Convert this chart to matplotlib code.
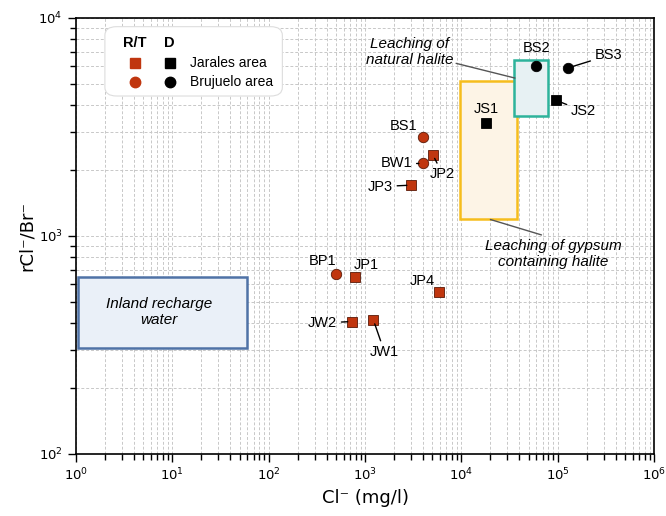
import matplotlib
matplotlib.use("Agg")
import matplotlib.pyplot as plt
from matplotlib.patches import Rectangle, FancyBboxPatch
from matplotlib.ticker import LogLocator, NullFormatter, LogFormatterSciNotation

# samples: name, Cl- (mg/l), rCl/Br, group, area
names = ["BS2", "BS3", "JS2", "JS1", "BS1", "BW1", "JP2", "JP3",
         "BP1", "JP1", "JP4", "JW2", "JW1"]
cl = [6.0e4, 1.28e5, 9.5e4, 1.8e4, 4000, 4000, 5050, 3000,
      500, 790, 5900, 730, 1220]
ratio = [6000, 5900, 4200, 3300, 2840, 2150, 2360, 1710,
         670, 645, 553, 405, 412]
group = ["D", "D", "D", "D", "RT", "RT", "RT", "RT",
         "RT", "RT", "RT", "RT", "RT"]
area = ["B", "B", "J", "J", "B", "B", "J", "J", "B", "J", "J", "J", "J"]

# label offsets in points and whether a leader line is drawn
label_off = [(0, 13), (29, 9), (20, -8), (0, 10), (-14, 8), (-19, 0),
             (7, -14), (-22, -1), (-10, 9), (8, 9), (-12, 8), (-21, -1), (8, -23)]
leader = [False, True, True, False, False, True, True, True,
          False, False, False, True, True]

# reference areas (x range, y range)
inland_x, inland_y = [1.05, 59], [305, 650]
gyps_x, gyps_y = [9.6e3, 3.8e4], [1190, 5150]
halite_x, halite_y = [3.55e4, 7.9e4], [3540, 6400]

xticks = [1, 10, 100, 1e3, 1e4, 1e5, 1e6]
yticks = [100, 1e3, 1e4]

red = "#c0360f"

fig = plt.figure(figsize=(6.66, 5.16), dpi=100)
ax = fig.add_axes([0.1141, 0.1202, 0.868, 0.845])
ax.set_xscale("log")
ax.set_yscale("log")
ax.set_xlim(1, 1e6)
ax.set_ylim(100, 1e4)
ax.set_xticks(xticks)
ax.set_yticks(yticks)
ax.xaxis.set_major_formatter(LogFormatterSciNotation())
ax.yaxis.set_major_formatter(LogFormatterSciNotation())

ax.xaxis.set_minor_locator(LogLocator(base=10, subs=range(2, 10), numticks=20))
ax.yaxis.set_minor_locator(LogLocator(base=10, subs=range(2, 10), numticks=20))
ax.xaxis.set_minor_formatter(NullFormatter())
ax.yaxis.set_minor_formatter(NullFormatter())
ax.grid(True, which="both", ls=(0, (3, 2)), color="#c8c8c8", lw=0.7)
ax.set_axisbelow(True)
ax.tick_params(which="major", length=6, width=1, labelsize=9.5, direction="out")
ax.tick_params(which="minor", length=4, width=1, direction="out")
for s in ax.spines.values():
    s.set_linewidth(1.2)

def box(xr, yr, ec, fc):
    ax.add_patch(Rectangle((xr[0], yr[0]), xr[1] - xr[0], yr[1] - yr[0],
                           ec=ec, fc=fc, lw=1.8, zorder=2))

box(inland_x, inland_y, "#4f72a6", "#eaf0f8")
box(gyps_x, gyps_y, "#f6bd1d", "#fdf4e6")
box(halite_x, halite_y, "#2db39b", "#e7f1f3")

lab_font = dict(family="Liberation Sans", fontsize=10.5)
note_font = dict(family="Liberation Sans", fontsize=11, style="italic")
ax.text(7.3, 448, "Inland recharge\nwater", ha="center", va="center", **note_font)
ax.annotate("Leaching of\nnatural halite", xy=(3.6e4, 5300), xytext=(2.9e3, 7000),
            ha="center", va="center",
            arrowprops=dict(arrowstyle="-", color="#555555", lw=1, shrinkA=0, shrinkB=0),
            **note_font)
ax.annotate("Leaching of gypsum\ncontaining halite", xy=(2.0e4, 1190), xytext=(9.0e4, 830),
            ha="center", va="center",
            arrowprops=dict(arrowstyle="-", color="#555555", lw=1, shrinkA=2, shrinkB=0,
                            relpos=(0.5, 1.0)),
            **note_font)

for n, x, y, g, a, off, ld in zip(names, cl, ratio, group, area, label_off, leader):
    c = "black" if g == "D" else red
    m = "s" if a == "J" else "o"
    ms = 6.5 if m == "s" else 7.5
    ax.plot(x, y, marker=m, ms=ms, color=c, mec="#5a1a08" if g == "RT" else "black",
            mew=0.6, ls="none", zorder=4)
    ap = dict(arrowstyle="-", color="black", lw=1, shrinkA=1, shrinkB=3) if ld else None
    ax.annotate(n, xy=(x, y), xytext=off, textcoords="offset points",
                ha="center", va="center", arrowprops=ap, zorder=5, **lab_font)

# legend drawn by hand
lg = FancyBboxPatch((0.05, 0.821), 0.307, 0.159, boxstyle="round,pad=0,rounding_size=0.02",
                    transform=ax.transAxes, fc="white", ec="#dddddd", lw=0.8, zorder=6)
ax.add_patch(lg)
ax.text(0.102, 0.943, "R/T", transform=ax.transAxes, ha="center", va="center",
        fontweight="bold", family="Liberation Sans", fontsize=10.5, zorder=7)
ax.text(0.162, 0.943, "D", transform=ax.transAxes, ha="center", va="center",
        fontweight="bold", family="Liberation Sans", fontsize=10.5, zorder=7)
for yy, m, ms, txt in [(0.897, "s", 6.5, "Jarales area"), (0.853, "o", 7.5, "Brujuelo area")]:
    ax.plot(0.102, yy, marker=m, ms=ms, color=red, transform=ax.transAxes, zorder=7)
    ax.plot(0.162, yy, marker=m, ms=ms, color="black", transform=ax.transAxes, zorder=7)
    ax.text(0.197, yy, txt, transform=ax.transAxes, va="center",
            family="Liberation Sans", fontsize=10, zorder=7)

ax.set_xlabel("Cl⁻ (mg/l)", fontsize=13, labelpad=4)
ax.set_ylabel("rCl⁻/Br⁻", fontsize=13, labelpad=2)

fig.savefig("out.png", dpi=100)
